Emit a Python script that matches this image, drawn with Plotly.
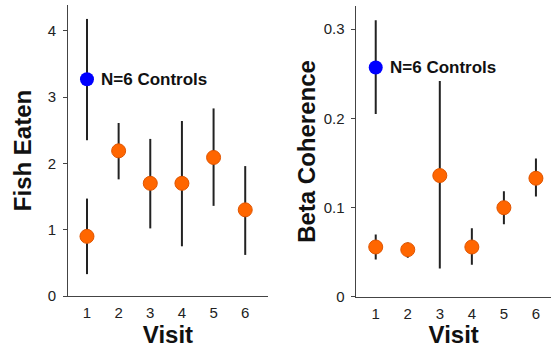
import plotly.graph_objects as go

visits = [1, 2, 3, 4, 5, 6]
tick_labels = ["1", "2", "3", "4", "5", "6"]

# Fish eaten (patients)
fish_mean = [0.90, 2.19, 1.70, 1.70, 2.09, 1.30]
fish_hi = [1.47, 2.61, 2.37, 2.64, 2.83, 1.96]
fish_lo = [0.33, 1.76, 1.02, 0.75, 1.36, 0.62]
fish_ctrl_mean = [3.27]
fish_ctrl_hi = [4.18]
fish_ctrl_lo = [2.35]

# Beta coherence (patients)
beta_mean = [0.056, 0.053, 0.136, 0.056, 0.100, 0.133]
beta_hi = [0.070, 0.061, 0.242, 0.077, 0.1185, 0.155]
beta_lo = [0.042, 0.044, 0.032, 0.036, 0.0815, 0.1125]
beta_ctrl_mean = [0.257]
beta_ctrl_hi = [0.310]
beta_ctrl_lo = [0.205]

ctrl_visit = [1]
ctrl_label = "N=6 Controls"

ORANGE = "#FF6600"
BLUE = "#0000FF"
FONT = "Liberation Sans, Arial, sans-serif"


def err(mean, hi, lo):
    return dict(type="data", symmetric=False,
                array=[h - m for h, m in zip(hi, mean)],
                arrayminus=[m - l for m, l in zip(mean, lo)],
                color="#222222", thickness=2, width=0)


fig = go.Figure()

fig.add_trace(go.Scatter(x=visits, y=fish_mean, mode="markers",
                         error_y=err(fish_mean, fish_hi, fish_lo),
                         marker=dict(color=ORANGE, size=14, line=dict(color="#E05500", width=1)),
                         xaxis="x", yaxis="y", showlegend=False, cliponaxis=False))
fig.add_trace(go.Scatter(x=ctrl_visit, y=fish_ctrl_mean, mode="markers",
                         error_y=err(fish_ctrl_mean, fish_ctrl_hi, fish_ctrl_lo),
                         marker=dict(color=BLUE, size=14, line=dict(width=0)),
                         xaxis="x", yaxis="y", showlegend=False, cliponaxis=False))
fig.add_trace(go.Scatter(x=visits, y=beta_mean, mode="markers",
                         error_y=err(beta_mean, beta_hi, beta_lo),
                         marker=dict(color=ORANGE, size=14, line=dict(color="#E05500", width=1)),
                         xaxis="x2", yaxis="y2", showlegend=False, cliponaxis=False))
fig.add_trace(go.Scatter(x=ctrl_visit, y=beta_ctrl_mean, mode="markers",
                         error_y=err(beta_ctrl_mean, beta_ctrl_hi, beta_ctrl_lo),
                         marker=dict(color=BLUE, size=14, line=dict(width=0)),
                         xaxis="x2", yaxis="y2", showlegend=False, cliponaxis=False))

xcommon = dict(tickmode="array", tickvals=visits, ticktext=tick_labels,
               showline=True, linecolor="#444444", linewidth=1, ticks="",
               showgrid=False, zeroline=False, automargin=False, ticklabelstandoff=3,
               tickfont=dict(family=FONT, size=15, color="#222222"),
               title=dict(text="<b>Visit</b>", font=dict(family=FONT, size=24, color="#111111"), standoff=6))
ycommon = dict(showline=True, linecolor="#444444", linewidth=1, ticks="outside",
               ticklen=4, tickcolor="#444444", showgrid=False, zeroline=False,
               automargin=False, ticklabelstandoff=4,
               tickfont=dict(family=FONT, size=15, color="#222222"))

fig.update_layout(
    width=551, height=348,
    margin=dict(l=0, r=0, t=0, b=0),
    paper_bgcolor="white", plot_bgcolor="white",
    xaxis=dict(domain=[0.1234, 0.4864], range=[0.40, 6.72], anchor="y", **xcommon),
    yaxis=dict(domain=[0.1494, 0.9856], range=[0, 4.39], anchor="x",
               tickvals=[0, 1, 2, 3, 4],
               title=dict(text="<b>Fish Eaten</b>", font=dict(family=FONT, size=24, color="#111111"), standoff=9),
               **ycommon),
    xaxis2=dict(domain=[0.647, 1.0], range=[0.40, 6.47], anchor="y2", **xcommon),
    yaxis2=dict(domain=[0.1466, 0.983], range=[0, 0.326], anchor="x2",
                tickvals=[0, 0.1, 0.2, 0.3], ticktext=["0", "0.1", "0.2", "0.3"],
                title=dict(text="<b>Beta Coherence</b>", font=dict(family=FONT, size=24, color="#111111"), standoff=1),
                **ycommon),
    annotations=[
        dict(x=ctrl_visit[0], y=fish_ctrl_mean[0], xref="x", yref="y", text="<b>" + ctrl_label + "</b>",
             showarrow=False, xanchor="left", yanchor="middle", xshift=12,
             font=dict(family=FONT, size=17, color="#111111")),
        dict(x=ctrl_visit[0], y=beta_ctrl_mean[0], xref="x2", yref="y2", text="<b>" + ctrl_label + "</b>",
             showarrow=False, xanchor="left", yanchor="middle", xshift=12,
             font=dict(family=FONT, size=17, color="#111111")),
    ],
)

fig.write_html("out.html", config={"displayModeBar": False},
               post_script="document.body.style.margin='0';document.body.style.overflow='hidden';")
